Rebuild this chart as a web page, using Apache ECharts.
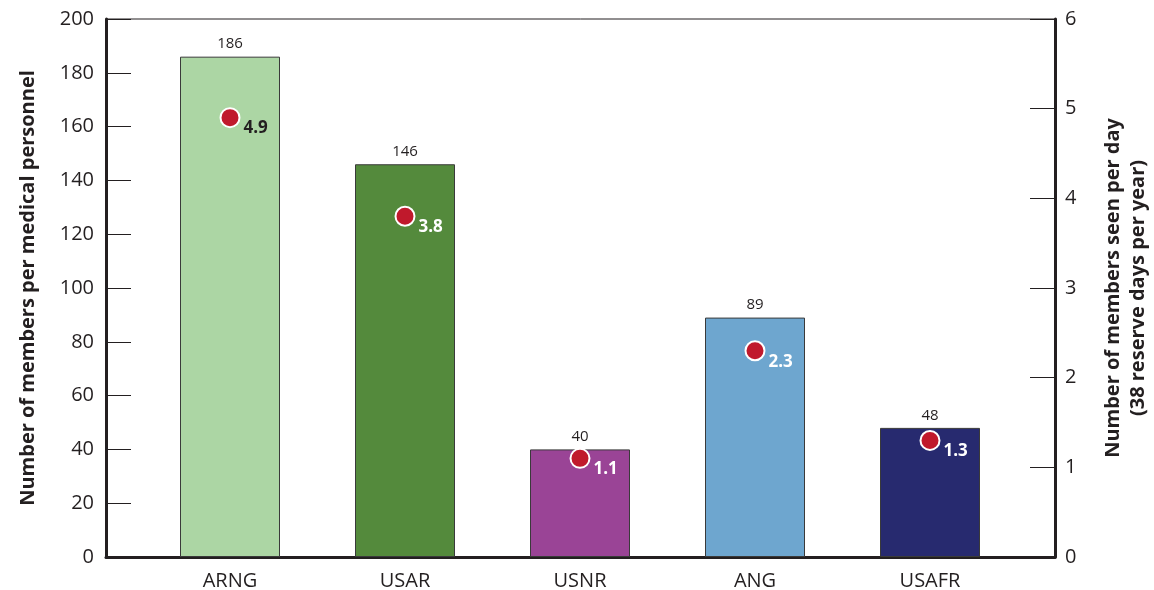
<!DOCTYPE html>
<html><head><meta charset="utf-8">
<script src="https://cdn.jsdelivr.net/npm/echarts@6/dist/echarts.min.js"></script>
<style>html,body{margin:0;padding:0;background:#fff}#c{width:1154px;height:590px}</style>
</head><body><div id="c"></div>
<script>
const categories = ['ARNG', 'USAR', 'USNR', 'ANG', 'USAFR'];
const membersPerMedical = [186, 146, 40, 89, 48];
const membersPerDay = [4.9, 3.8, 1.1, 2.3, 1.3];
const barColors = ['#acd6a4', '#548a3c', '#9a4496', '#6ea6cf', '#272a6f'];
const dotLabelColors = ['#231f20', '#ffffff', '#ffffff', '#ffffff', '#ffffff'];
const leftTitle = 'Number of members per medical personnel';
const rightTitle = 'Number of members seen per day\n(38 reserve days per year)';

const FONT = 'Open Sans';
const TXT = '#231f20';
const chart = echarts.init(document.getElementById('c'));
chart.setOption({
  animation: false,
  textStyle: { fontFamily: FONT, color: TXT },
  grid: [
    { left: 106, right: 99, top: 19, bottom: 33, show: true, borderColor: TXT, borderWidth: 1, outerBoundsMode: 'none', containLabel: false },
    { left: 142.5, right: 136.5, top: 19, bottom: 33, outerBoundsMode: 'none', containLabel: false }
  ],
  xAxis: [
    { gridIndex: 0, type: 'category', data: [''], axisLine: { lineStyle: { color: TXT, width: 3 } }, axisTick: { show: false }, axisLabel: { show: false }, splitLine: { show: false } },
    { gridIndex: 1, type: 'category', data: categories, axisLine: { show: false }, axisTick: { show: false },
      axisLabel: { fontSize: 20, color: TXT, margin: 14, fontFamily: FONT }, splitLine: { show: false } }
  ],
  yAxis: [
    { gridIndex: 0, type: 'value', position: 'left', min: 0, max: 200, interval: 20,
      name: leftTitle, nameLocation: 'middle', nameRotate: 90, nameGap: 68,
      nameTextStyle: { fontSize: 20, fontWeight: 'bold', color: TXT, fontFamily: FONT },
      axisLine: { show: true, lineStyle: { color: TXT, width: 3 } },
      axisTick: { show: true, inside: true, length: 25, lineStyle: { color: TXT, width: 1 } },
      axisLabel: { fontSize: 20, color: TXT, margin: 12, fontFamily: FONT }, splitLine: { show: false } },
    { gridIndex: 0, type: 'value', position: 'right', min: 0, max: 6, interval: 1,
      name: rightTitle, nameLocation: 'middle', nameRotate: 90, nameGap: 46,
      nameTextStyle: { fontSize: 20, fontWeight: 'bold', color: TXT, fontFamily: FONT, lineHeight: 25, align: 'center' },
      axisLine: { show: true, lineStyle: { color: TXT, width: 3 } },
      axisTick: { show: true, inside: true, length: 25, lineStyle: { color: TXT, width: 1 } },
      axisLabel: { fontSize: 20, color: TXT, margin: 10, fontFamily: FONT }, splitLine: { show: false } },
    { gridIndex: 1, type: 'value', min: 0, max: 200, show: false },
    { gridIndex: 1, type: 'value', min: 0, max: 6, show: false }
  ],
  series: [
    { type: 'bar', xAxisIndex: 1, yAxisIndex: 2, barWidth: 100,
      data: membersPerMedical.map((v, i) => ({ value: v, itemStyle: { color: barColors[i] } })),
      itemStyle: { borderColor: '#3a3a3a', borderWidth: 1 },
      label: { show: true, position: 'top', distance: 5, fontSize: 15, color: TXT, fontFamily: FONT } },
    { type: 'scatter', xAxisIndex: 1, yAxisIndex: 3, symbol: 'circle', symbolSize: 19, z: 5,
      itemStyle: { color: '#c0192c', borderColor: '#ffffff', borderWidth: 2, opacity: 1 },
      data: membersPerDay.map((v, i) => ({ value: v, label: { color: dotLabelColors[i] } })),
      label: { show: true, position: 'right', distance: 3, offset: [0, 11], fontSize: 17, fontWeight: 'bold', fontFamily: FONT } }
  ]
});
</script></body></html>
